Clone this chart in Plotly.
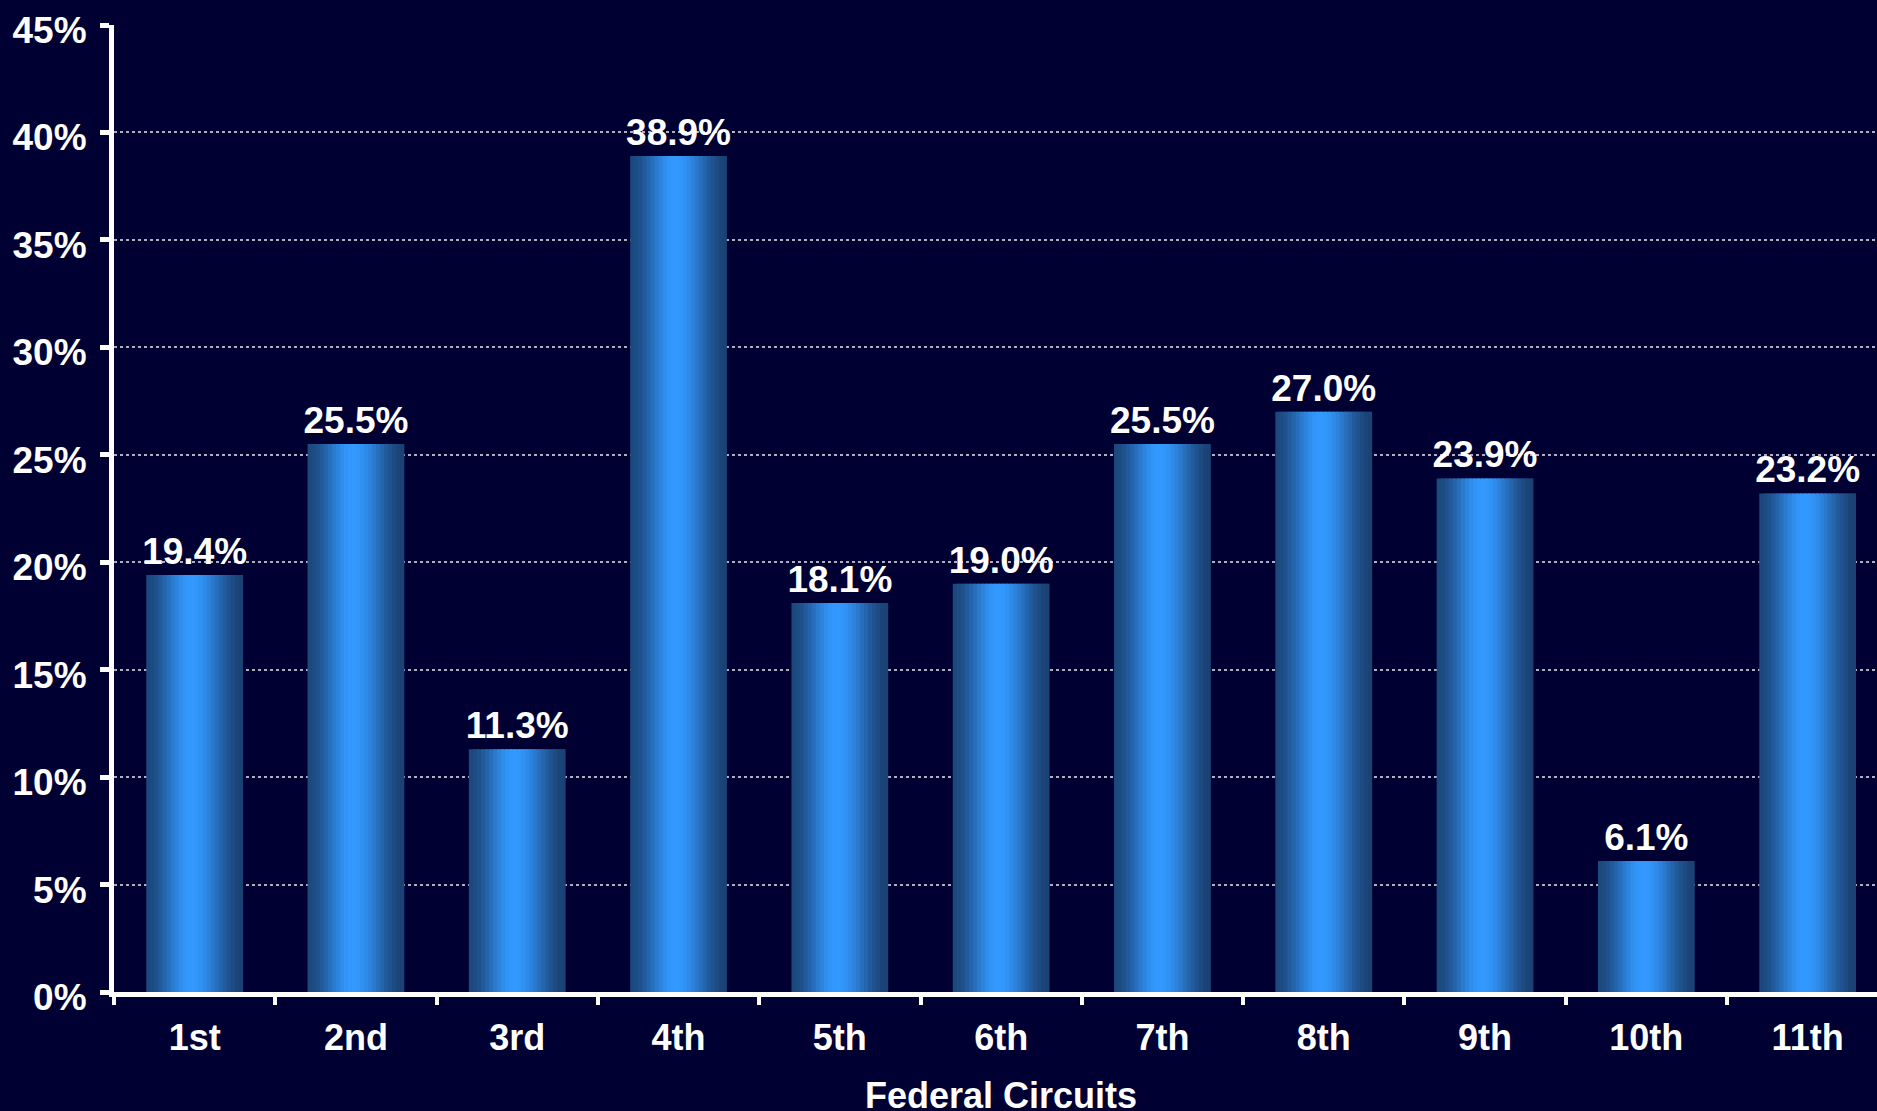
import plotly.graph_objects as go

circuits = ["1st", "2nd", "3rd", "4th", "5th", "6th", "7th", "8th", "9th", "10th", "11th"]
rates = [19.4, 25.5, 11.3, 38.9, 18.1, 19.0, 25.5, 27.0, 23.9, 6.1, 23.2]
labels = ["19.4%", "25.5%", "11.3%", "38.9%", "18.1%", "19.0%", "25.5%", "27.0%", "23.9%", "6.1%", "23.2%"]
x_title = "Federal Circuits"

BG = "#000033"
FONT = "Liberation Sans, Arial, sans-serif"
BAR_W = 0.6
N_STRIPS = 24

edge_l = (28, 72, 125)
mid = (51, 153, 255)
edge_r = (26, 66, 116)
peak = 0.47


def strip_color(t):
    if t <= peak:
        s = t / peak
        a, b = edge_l, mid
    else:
        s = (t - peak) / (1 - peak)
        a, b = mid, edge_r
    s = s * s * (3 - 2 * s)
    c = [round(a[i] + (b[i] - a[i]) * s) for i in range(3)]
    return f"rgb({c[0]},{c[1]},{c[2]})"


fig = go.Figure()
sw = BAR_W / N_STRIPS
for k in range(N_STRIPS):
    t = (k + 0.5) / N_STRIPS
    w = sw * 1.8 if k < N_STRIPS - 1 else sw
    fig.add_trace(go.Bar(
        x=circuits, y=rates,
        width=w, offset=-BAR_W / 2 + k * sw,
        marker=dict(color=strip_color(t), line=dict(width=0)),
        hoverinfo="skip", showlegend=False,
    ))

fig.add_trace(go.Bar(
    x=circuits, y=rates, width=BAR_W,
    marker=dict(color="rgba(0,0,0,0)", line=dict(width=0)),
    text=labels, textposition="outside", cliponaxis=False,
    constraintext="none",
    textfont=dict(family=FONT, size=37, color="white", weight="bold"),
    showlegend=False,
))

fig.add_annotation(
    text=x_title, xref="paper", yref="paper", x=0.503, y=0,
    xanchor="center", yanchor="top", yshift=-81, showarrow=False,
    font=dict(family=FONT, size=36, color="white", weight="bold"),
)

fig.update_layout(
    width=1877, height=1111,
    paper_bgcolor=BG, plot_bgcolor=BG,
    margin=dict(l=114, r=0, t=25, b=119, autoexpand=False),
    barmode="overlay",
    font=dict(family=FONT, color="white", size=36),
    xaxis=dict(
        range=[-0.5, 10.43], automargin=False,
        showline=True, linecolor="white", linewidth=5,
        ticks="outside", tickson="boundaries", ticklen=8, tickwidth=4, tickcolor="white",
        tickfont=dict(family=FONT, size=36, color="white", weight="bold"),
        ticklabelstandoff=10,
        showgrid=False,
    ),
    yaxis=dict(
        range=[0, 45], dtick=5, ticksuffix="%", automargin=False,
        showline=True, linecolor="white", linewidth=5,
        ticks="outside", ticklen=9, tickwidth=5, tickcolor="white",
        tickfont=dict(family=FONT, size=37, color="white", weight="bold"),
        ticklabelstandoff=6, ticklabelshift=5,
        showgrid=True, gridcolor="rgb(175,175,190)", gridwidth=1.5, griddash="dot",
        zeroline=False,
    ),
)

fig.write_html("out.html")
